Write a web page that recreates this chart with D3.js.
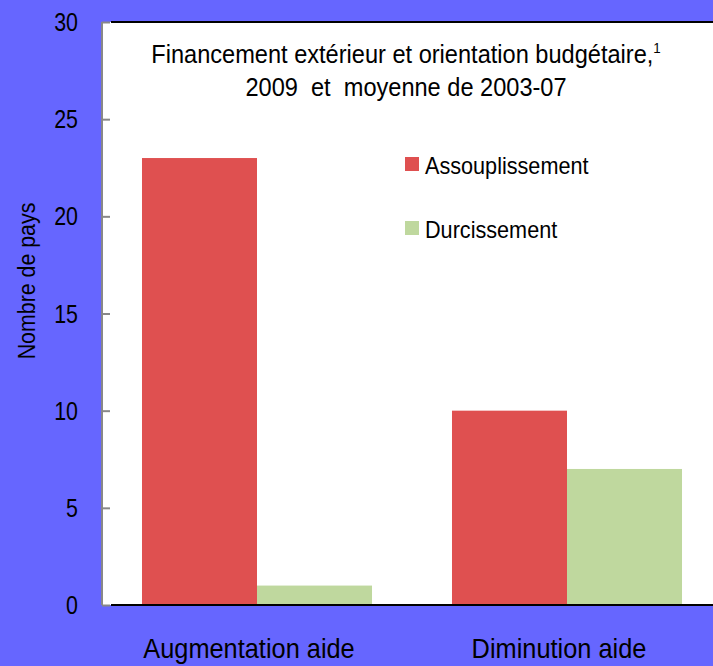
<!DOCTYPE html>
<html>
<head>
<meta charset="utf-8">
<script src="https://cdn.jsdelivr.net/npm/d3@7"></script>
<style>
  html, body { margin: 0; padding: 0; background: #6666ff; }
  svg { display: block; font-family: "Liberation Sans", Arial, sans-serif; }
</style>
</head>
<body>
<div id="container"></div>
<script>
// 数据
const categories = ["Augmentation aide", "Diminution aide"];
const seriesNames = ["Assouplissement", "Durcissement"];
const assouplissement = [23, 10];
const durcissement = [1, 7];
const yTicks = [0, 5, 10, 15, 20, 25, 30];

const width = 713;
const height = 666;
const colors = ["#df5050", "#bfd89e"];

// 绘图区
const plotLeft = 102, plotTop = 22, plotBottom = 605, plotRight = 722;
// 原图文字略微横向压缩
const SX = 0.89;

const rows = categories.map((c, i) => ({
  category: c,
  values: [assouplissement[i], durcissement[i]]
}));

const svg = d3.select("#container")
  .append("svg")
  .attr("width", width)
  .attr("height", height);

svg.append("rect")
  .attr("width", width).attr("height", height)
  .attr("fill", "#6666ff");

// 带横向压缩的文字
function label(parent, x, y, str, size, anchor, rotate = 0, sx = SX) {
  return parent.append("text")
    .attr("transform", `translate(${x},${y}) rotate(${rotate}) scale(${sx},1)`)
    .attr("text-anchor", anchor)
    .attr("font-size", size)
    .attr("xml:space", "preserve")
    .text(str);
}

const x = d3.scaleBand()
  .domain(categories)
  .range([plotLeft, plotRight])
  .paddingInner(0.258)
  .paddingOuter(0.129);

const xs = d3.scaleBand()
  .domain(seriesNames)
  .range([0, x.bandwidth()]);

const y = d3.scaleLinear()
  .domain([0, 30])
  .range([plotBottom, plotTop]);

// 白色背景
svg.append("rect")
  .attr("x", plotLeft).attr("y", plotTop)
  .attr("width", plotRight - plotLeft).attr("height", plotBottom - plotTop)
  .attr("fill", "#fff");

// 柱子
svg.append("g")
  .selectAll("g")
  .data(rows)
  .join("g")
  .attr("transform", d => `translate(${x(d.category)},0)`)
  .selectAll("rect")
  .data(d => d.values.map((v, j) => ({ key: seriesNames[j], value: v, j })))
  .join("rect")
  .attr("x", d => xs(d.key))
  .attr("y", d => y(d.value))
  .attr("width", xs.bandwidth())
  .attr("height", d => y(0) - y(d.value))
  .attr("fill", d => colors[d.j]);

// 上下边框
svg.append("line")
  .attr("x1", plotLeft + 9).attr("x2", width)
  .attr("y1", plotTop).attr("y2", plotTop)
  .attr("stroke", "#000").attr("stroke-width", 2);
svg.append("line")
  .attr("x1", plotLeft + 9).attr("x2", width)
  .attr("y1", plotBottom).attr("y2", plotBottom)
  .attr("stroke", "#000").attr("stroke-width", 2);

// y 轴（刻度朝内）
const yAxis = d3.axisRight(y).tickValues(yTicks).tickSize(8).tickFormat("");
svg.append("g")
  .attr("transform", `translate(${plotLeft},0)`)
  .call(yAxis)
  .call(g => g.selectAll("path, line").attr("stroke", "#888").attr("stroke-width", 2))
  .call(g => g.select(".domain").attr("d", `M0,${plotTop}V${plotBottom}`));

const tickG = svg.append("g");
yTicks.forEach(t => label(tickG, plotLeft - 24, y(t) + 9, t, 25.5, "end", 0, 0.84));

// y 轴标题
label(svg, 35, 281, "Nombre de pays", 24, "middle", -90);

// x 轴标签
categories.forEach(c => label(svg, x(c) + x.bandwidth() / 2 - 8, 658, c, 28.5, "middle"));

// 标题
const t1 = label(svg, 406, 63, "", 26.5, "middle");
t1.append("tspan").text("Financement extérieur et orientation budgétaire,");
t1.append("tspan").attr("font-size", 15).attr("dy", -10).text("1");
label(svg, 406, 96, "2009  et  moyenne de 2003-07", 26.5, "middle");

// 图例
const legend = svg.append("g")
  .selectAll("g")
  .data(seriesNames)
  .join("g")
  .attr("transform", (d, i) => `translate(405,${157 + i * 64})`);
legend.append("rect")
  .attr("width", 14).attr("height", 14)
  .attr("fill", (d, i) => colors[i]);
legend.each(function (d) {
  label(d3.select(this), 20, 17, d, 24.3, "start");
});
</script>
</body>
</html>
